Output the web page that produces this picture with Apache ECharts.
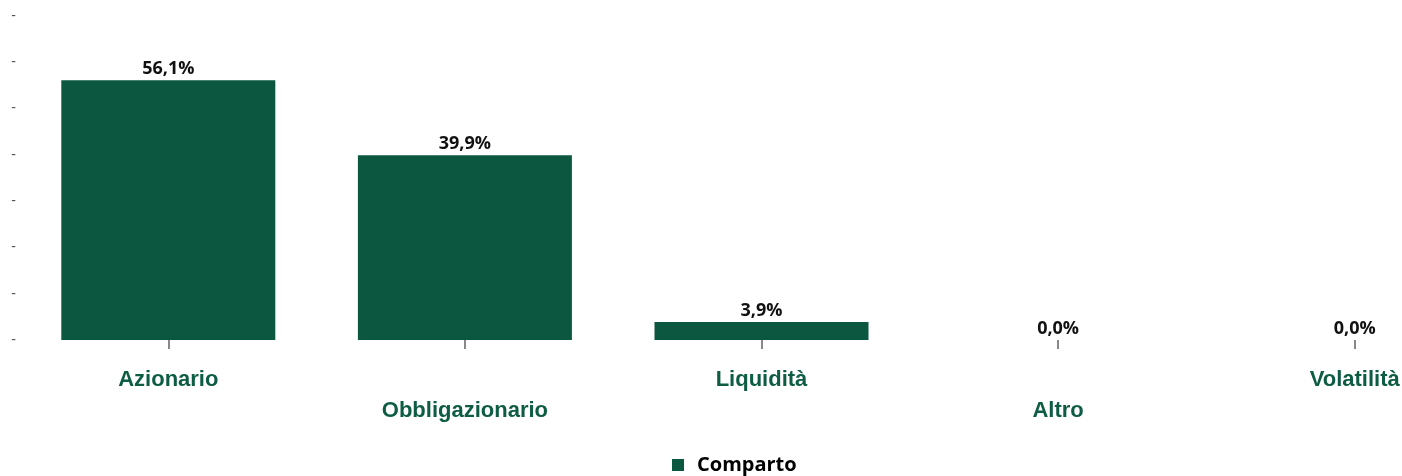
<!DOCTYPE html>
<html>
<head>
<meta charset="utf-8">
<script src="https://cdn.jsdelivr.net/npm/echarts@6/dist/echarts.min.js"></script>
<style>
  html, body { margin: 0; padding: 0; background: #fff; }
  #chart { width: 1402px; height: 476px; }
</style>
</head>
<body>
<div id="chart"></div>
<script>
// categorie e valori (in %)
const categories = ['Azionario', 'Obbligazionario', 'Liquidità', 'Altro', 'Volatilità'];
const comparto = [56.1, 39.9, 3.9, 0.0, 0.0];
const seriesName = 'Comparto';

const green = '#0b5740';

const chart = echarts.init(document.getElementById('chart'));
const option = {
  animation: false,
  grid: {
    left: 20,
    top: 16,
    bottom: 136,
    width: 1483,
    containLabel: false,
    outerBoundsMode: 'none'
  },
  legend: {
    data: [seriesName],
    bottom: -4,
    left: 667,
    icon: 'rect',
    itemWidth: 12,
    itemHeight: 12,
    itemGap: 10,
    textStyle: {
      fontFamily: 'Open Sans',
      fontWeight: 'bold',
      fontSize: 20,
      color: '#000',
      padding: [0, 0, 0, 8]
    }
  },
  xAxis: {
    type: 'category',
    data: categories,
    offset: 3,
    axisLine: { show: false },
    axisTick: {
      show: true,
      alignWithLabel: true,
      length: 9,
      lineStyle: { color: '#888', width: 2 }
    },
    axisLabel: {
      interval: 0,
      margin: 21,
      lineHeight: 31,
      fontFamily: 'Liberation Sans',
      fontWeight: 'bold',
      fontSize: 22,
      color: '#0d5c43',
      // etichette alternate su due righe
      formatter: (v, i) => (i % 2 ? '\n' + v : v)
    }
  },
  yAxis: {
    type: 'value',
    min: 0,
    max: 70,
    interval: 10,
    splitLine: { show: false },
    axisLine: { show: false },
    axisTick: { show: false },
    axisLabel: {
      margin: 4,
      color: '#555',
      fontSize: 14,
      formatter: () => '-'
    }
  },
  series: [
    {
      name: seriesName,
      type: 'bar',
      data: comparto,
      barWidth: 214,
      itemStyle: { color: green },
      label: {
        show: true,
        position: 'top',
        distance: 2,
        fontFamily: 'Open Sans',
        fontWeight: 'bold',
        fontSize: 18,
        color: '#111',
        formatter: p => p.value.toFixed(1).replace('.', ',') + '%'
      }
    }
  ]
};
chart.setOption(option);
</script>
</body>
</html>
